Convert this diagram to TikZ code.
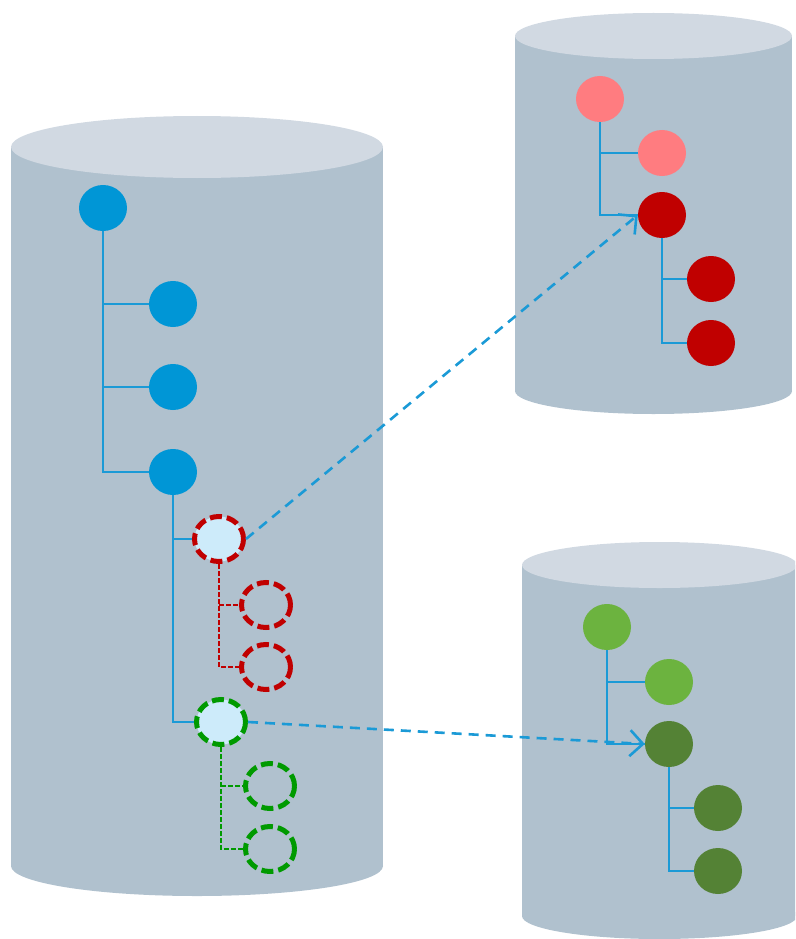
\documentclass[tikz,border=0pt]{standalone}
\usetikzlibrary{shapes.geometric,arrows.meta}
\definecolor{cylbody}{HTML}{B0C1CE}
\definecolor{cyltop}{HTML}{D1D9E2}
\definecolor{nblue}{HTML}{0096D6}
\definecolor{lblue}{HTML}{1B9AD6}
\definecolor{pink}{HTML}{FF7C80}
\definecolor{dred}{HTML}{C00000}
\definecolor{lgreen}{HTML}{6CB33F}
\definecolor{dgreen}{HTML}{548235}
\definecolor{pale}{HTML}{CDEBFA}
\definecolor{dashgreen}{HTML}{009A00}
\begin{document}
\begin{tikzpicture}[x=1pt,y=-1pt,
  dot/.style={ellipse,inner sep=0pt,minimum width=48pt,minimum height=46pt,draw=none},
  ghost/.style={ellipse,inner sep=0pt,minimum width=49pt,minimum height=45pt,line width=5pt,dash pattern=on 12pt off 5pt},
  tree/.style={lblue,line width=2.2pt},
  ghostline/.style={line width=2pt,dash pattern=on 5pt off 2pt},
  link/.style={lblue,line width=2.6pt,dash pattern=on 10pt off 7pt,-{Straight Barb[length=13pt,width=26pt,line width=2.6pt]}}]
\useasboundingbox (0,0) rectangle (795,939);
\clip (0,0) rectangle (795,939);
% cylinders
\fill[cylbody] (11,147) rectangle (383,866);
\fill[cylbody] (197,866) ellipse [x radius=186pt,y radius=30pt];
\fill[cyltop] (197,147) ellipse [x radius=186pt,y radius=31pt];
\fill[cylbody] (515,36) rectangle (792,391);
\fill[cylbody] (653.5,391) ellipse [x radius=138.5pt,y radius=23pt];
\fill[cyltop] (653.5,36) ellipse [x radius=138.5pt,y radius=23pt];
\fill[cylbody] (522,565) rectangle (797,916);
\fill[cylbody] (659.5,916) ellipse [x radius=137.5pt,y radius=23pt];
\fill[cyltop] (659.5,565) ellipse [x radius=137.5pt,y radius=23pt];
% left tree
\node[dot,fill=nblue] (a) at (103,208) {};
\node[dot,fill=nblue] (b) at (173,304) {};
\node[dot,fill=nblue] (c) at (173,387) {};
\node[dot,fill=nblue] (d) at (173,472) {};
\node[ghost,draw=dred,fill=pale] (e) at (219,539) {};
\node[ghost,draw=dred] (e1) at (266,605) {};
\node[ghost,draw=dred] (e2) at (266,667) {};
\node[ghost,draw=dashgreen,fill=pale] (f) at (221,722) {};
\node[ghost,draw=dashgreen] (f1) at (270,786) {};
\node[ghost,draw=dashgreen] (f2) at (270,849) {};
\draw[tree] (a.south) -- (a.south |- d) -- (d.west);
\draw[tree] (a.south |- b) -- (b.west);
\draw[tree] (a.south |- c) -- (c.west);
\draw[tree] (d.south) -- (d.south |- f) -- (f.west);
\draw[tree] (d.south |- e.west) -- (e.west);
\draw[ghostline,dred] (e.south) -- (e.south |- e2) -- (e2.west);
\draw[ghostline,dred] (e.south |- e1) -- (e1.west);
\draw[ghostline,dashgreen] (f.south) -- (f.south |- f2) -- (f2.west);
\draw[ghostline,dashgreen] (f.south |- f1) -- (f1.west);
% top right tree
\node[dot,fill=pink] (p) at (600,99) {};
\node[dot,fill=pink] (q) at (662,153) {};
\node[dot,fill=dred] (r) at (662,215) {};
\node[dot,fill=dred] (r1) at (711,279) {};
\node[dot,fill=dred] (r2) at (711,343) {};
\draw[tree] (p.south) -- (p.south |- r) -- (r.west);
\draw[tree] (p.south |- q) -- (q.west);
\draw[tree] (r.south) -- (r.south |- r2) -- (r2.west);
\draw[tree] (r.south |- r1) -- (r1.west);
% bottom right tree
\node[dot,fill=lgreen] (g) at (607,627) {};
\node[dot,fill=lgreen] (h) at (669,682) {};
\node[dot,fill=dgreen] (k) at (669,744) {};
\node[dot,fill=dgreen] (k1) at (718,808) {};
\node[dot,fill=dgreen] (k2) at (718,871) {};
\draw[tree] (g.south) -- (g.south |- k) -- (k.west);
\draw[tree] (g.south |- h) -- (h.west);
\draw[tree] (k.south) -- (k.south |- k2) -- (k2.west);
\draw[tree] (k.south |- k1) -- (k1.west);
% links
\draw[link] (e.east) -- (r.west);
\draw[link] (f.east) -- (k.west);
\end{tikzpicture}
\end{document}
